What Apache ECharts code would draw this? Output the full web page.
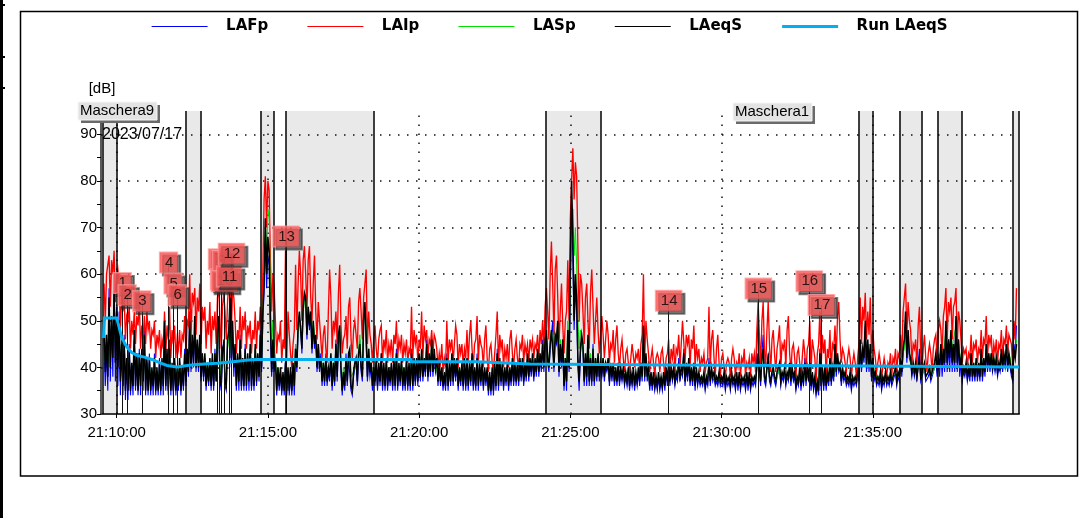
<!DOCTYPE html>
<html>
<head>
<meta charset="utf-8">
<script src="https://cdn.jsdelivr.net/npm/echarts@6/dist/echarts.min.js"></script>
<style>
  html, body { margin: 0; padding: 0; background: #ffffff; }
  #chart { width: 1081px; height: 518px; }
</style>
</head>
<body>
<div id="chart"></div>
<script>
// Sound level log, 2023/07/17, one sample every 2.5 s starting at 21:09:35
const firstSample = '21:09:35';
const stepSeconds = 2.5;

const laip = [
  58,50,60,62, 64,53,63,60, 65,54,59,61, 58,48,55,52, 55,46,51,50,
  53,44,50,47, 52,45,51,49, 54,44,49,46, 51,45,52,48, 50,44,48,47,
  50,42,47,45, 48,42,46,44, 52,43,49,46, 53,42,48,45, 49,42,46,44,
  48,42,47,46, 51,43,50,49, 60,46,56,54, 57,47,55,52, 58,45,53,50,
  53,44,50,47, 54,43,51,48, 52,45,55,57, 50,44,53,56, 52,46,54,58,
  59,47,57,55, 50,43,48,46, 53,44,51,48, 52,44,49,47, 50,43,48,46,
  52,44,50,48, 53,46,60,76, 81,70,80,78, 63,52,60,57, 50,43,47,46,
  50,41,46,44, 65,42,52,47, 43,40,45,48, 62,48,58,65, 60,50,63,66,
  60,52,63,66, 55,50,58,64, 52,46,54,50, 46,42,47,49, 44,41,52,61,
  55,44,50,48, 52,45,56,62, 49,43,46,47, 51,44,53,55, 46,42,48,50,
  50,44,54,57, 52,46,55,58, 61,45,52,47, 45,41,46,49, 44,41,46,48,
  49,41,46,44, 48,41,45,43, 46,41,47,45, 50,42,46,44, 47,41,45,43,
  46,41,44,43, 53,42,48,45, 47,41,46,44, 52,42,49,46, 48,42,46,45,
  48,43,47,46, 44,40,43,41, 45,39,42,40, 50,41,46,44, 46,41,45,49,
  47,40,45,43, 45,40,44,42, 48,41,47,50, 44,40,45,46, 51,41,47,45,
  44,40,46,49, 42,39,44,45, 41,39,43,47, 52,40,47,44, 46,40,44,42,
  45,40,46,48, 43,40,44,46, 42,40,45,44, 47,41,45,43, 45,41,46,44,
  46,42,45,44, 47,42,48,45, 50,44,53,57, 52,46,60,67, 58,47,61,64,
  55,45,52,58, 49,43,50,52, 63,50,72,80, 87,76,84,81, 66,50,60,58,
  52,45,55,58, 50,44,56,61, 53,45,50,55, 48,43,47,51, 47,42,46,50,
  47,41,45,44, 48,41,46,49, 43,40,44,46, 42,39,43,44, 41,39,42,45,
  45,40,43,42, 44,39,45,47, 60,42,50,46, 43,39,42,44, 41,38,42,43,
  42,39,43,44, 41,38,42,43, 46,39,44,42, 45,39,44,43, 47,40,45,50,
  50,41,47,45, 47,40,46,44, 49,40,45,42, 44,39,42,41, 43,39,41,42,
  53,40,46,48, 42,38,44,47, 41,38,42,43, 40,38,41,42, 41,38,42,44,
  42,38,41,40, 43,38,42,41, 44,38,41,40, 42,38,43,41, 43,39,48,54,
  47,40,50,54, 44,40,48,54, 45,39,46,48, 43,39,44,46, 49,40,45,44,
  46,40,48,51, 43,39,44,45, 42,38,43,44, 41,38,42,46, 43,39,44,45,
  50,39,46,44, 42,37,43,45, 52,40,47,43, 46,38,44,42, 48,39,45,44,
  49,42,51,54, 46,41,44,43, 41,39,42,44, 42,38,41,43, 41,38,42,45,
  55,45,53,50, 56,46,52,47, 55,43,48,44, 42,39,41,43, 41,38,40,42,
  42,38,41,40, 43,38,42,41, 44,39,43,42, 47,42,52,55, 58,47,54,50,
  48,41,45,44, 46,40,49,53, 43,39,44,47, 42,39,43,45, 43,39,44,46,
  47,42,48,50, 48,43,51,53, 57,46,54,52, 55,46,53,54, 57,45,52,50,
  46,41,44,43, 44,40,43,42, 47,41,45,44, 46,41,44,43, 48,42,46,45,
  51,42,47,45, 47,41,45,43, 46,41,45,44, 48,42,46,45, 49,43,47,46,
  45,40,50,46, 57
];

const laeqs = [
  50,39,47,38, 55,40,51,42, 56,41,52,40, 50,37,45,36, 46,35,42,35,
  44,35,41,36, 48,36,43,35, 43,36,44,37, 47,35,42,35, 42,35,40,36,
  42,35,40,35, 41,35,42,36, 50,36,44,35, 44,35,41,35, 42,35,40,36,
  42,35,40,36, 43,37,44,39, 50,40,47,41, 51,40,46,40, 47,38,43,38,
  43,36,41,37, 42,36,43,36, 43,37,48,51, 38,36,44,45, 37,36,46,48,
  55,42,50,40, 45,36,43,37, 46,36,42,36, 44,36,43,37, 45,36,42,36,
  45,37,43,38, 47,40,52,58, 72,60,68,65, 50,39,46,40, 42,35,40,36,
  40,35,39,35, 41,35,40,35, 40,35,41,36, 44,40,49,52, 48,44,53,56,
  55,47,53,49, 52,44,50,45, 47,40,45,40, 42,37,41,37, 42,37,40,38,
  43,36,41,37, 45,38,47,49, 40,35,39,36, 42,37,43,44, 36,35,39,41,
  42,37,43,45, 40,38,50,54, 47,38,44,39, 41,36,40,37, 42,36,41,37,
  43,36,41,36, 42,36,40,37, 41,36,42,36, 43,36,41,37, 42,36,40,36,
  42,36,41,36, 43,36,42,37, 42,37,43,38, 44,38,42,39, 45,38,43,39,
  46,39,44,40, 42,37,41,37, 40,36,39,36, 42,36,41,37, 43,37,42,38,
  42,36,40,37, 41,36,42,36, 42,36,41,37, 43,36,40,36, 42,36,41,37,
  41,36,40,37, 40,35,39,35, 40,35,41,36, 43,36,42,37, 41,36,40,37,
  41,36,40,37, 42,37,41,37, 41,37,42,38, 42,37,41,38, 43,38,42,39,
  43,38,42,39, 44,39,43,40, 45,40,46,48, 42,40,45,48, 44,40,47,46,
  50,39,45,41, 46,36,42,37, 48,40,62,80, 68,50,60,55, 42,37,44,47,
  45,37,43,38, 47,37,42,37, 44,37,42,38, 43,38,41,39, 42,38,41,40,
  42,37,41,38, 41,37,40,37, 41,37,40,38, 40,37,39,37, 40,36,39,37,
  40,36,39,37, 40,37,41,38, 49,38,43,38, 40,36,39,36, 39,36,38,36,
  39,36,38,36, 39,36,40,37, 41,37,40,38, 40,37,39,38, 41,38,40,39,
  43,37,41,38, 42,37,40,37, 41,36,40,37, 39,37,38,37, 39,36,38,37,
  41,37,40,38, 39,37,38,37, 39,37,38,37, 39,36,38,37, 38,36,39,37,
  38,36,39,36, 39,36,38,37, 38,36,39,36, 39,36,38,37, 38,37,40,43,
  40,37,42,44, 38,37,40,42, 38,37,39,40, 38,37,39,39, 41,37,39,38,
  40,37,39,38, 41,37,40,38, 39,36,38,37, 40,36,39,37, 41,37,40,38,
  41,36,39,36, 38,35,37,35, 43,36,40,36, 40,36,39,37, 42,37,40,38,
  45,39,43,40, 41,37,40,38, 39,37,38,37, 39,36,38,37, 38,37,39,38,
  46,40,44,42, 50,40,46,40, 45,38,42,38, 39,37,38,37, 39,36,38,37,
  39,37,38,37, 39,37,38,38, 40,37,39,38, 42,39,44,46, 52,42,48,43,
  42,39,41,39, 41,38,40,42, 38,38,40,41, 38,38,39,40, 38,38,40,41,
  43,40,42,40, 45,40,44,41, 50,41,46,42, 48,41,45,41, 51,41,46,40,
  42,38,40,39, 41,38,40,38, 43,38,41,38, 42,38,41,38, 44,38,42,39,
  45,40,43,40, 43,40,42,40, 42,39,41,40, 44,40,43,41, 45,40,43,41,
  39,38,44,42, 45
];

const lafp = [
  46,36,44,35, 57,37,50,38, 60,37,53,36, 52,34,46,34, 47,33,41,33,
  45,34,40,34, 46,35,42,34, 44,34,43,35, 49,34,41,34, 43,34,39,34,
  43,34,39,34, 42,34,41,34, 47,35,43,34, 46,34,40,34, 41,34,39,35,
  41,34,39,35, 44,36,43,38, 52,39,46,40, 48,39,45,39, 45,37,42,37,
  42,35,40,36, 41,35,42,35, 44,37,47,49, 37,35,43,46, 36,35,45,47,
  53,40,48,38, 44,35,42,35, 47,35,41,35, 45,35,42,35, 44,35,41,35,
  44,36,42,37, 48,39,50,56, 68,57,64,62, 48,38,44,39, 41,34,39,35,
  39,34,38,34, 42,34,39,34, 39,34,40,34, 45,39,48,50, 49,43,52,55,
  54,46,52,48, 51,43,49,44, 46,39,44,39, 43,36,40,36, 43,36,39,37,
  42,35,40,36, 46,37,45,47, 39,34,38,35, 43,36,42,42, 35,34,38,40,
  41,36,42,46, 39,37,49,53, 45,37,42,38, 40,35,39,36, 41,35,40,36,
  42,35,40,35, 41,35,39,36, 40,35,41,35, 44,35,40,36, 41,35,39,35,
  41,35,40,35, 44,35,41,36, 41,36,42,37, 43,37,41,38, 46,37,42,38,
  45,38,43,39, 41,36,40,36, 39,35,38,35, 43,35,40,36, 42,36,41,37,
  41,35,39,36, 40,35,41,35, 41,35,40,36, 42,35,39,35, 43,35,40,36,
  40,35,39,36, 39,34,38,34, 39,34,40,35, 44,35,41,36, 40,35,39,36,
  40,35,39,36, 41,36,40,36, 40,36,41,37, 41,36,40,37, 42,37,41,38,
  42,37,41,38, 43,38,42,39, 46,39,45,47, 41,39,44,47, 50,39,46,45,
  49,38,44,40, 44,35,41,35, 47,39,58,72, 64,48,57,52, 40,35,43,46,
  44,36,42,36, 46,36,41,36, 45,36,41,37, 42,37,40,38, 41,37,40,39,
  41,36,40,37, 40,36,39,36, 40,36,39,37, 39,36,38,36, 39,35,38,36,
  39,35,38,36, 39,36,40,37, 47,37,42,37, 39,35,38,35, 38,35,37,35,
  38,35,37,35, 38,35,39,36, 40,36,39,37, 39,36,38,37, 42,37,39,38,
  44,36,40,37, 41,36,39,36, 40,35,39,36, 38,36,37,36, 38,35,37,36,
  42,36,39,37, 38,36,37,36, 38,36,37,36, 38,35,37,36, 37,35,38,36,
  37,35,38,35, 38,35,37,36, 37,35,38,35, 38,35,37,36, 37,36,44,51,
  39,36,43,47, 37,36,40,43, 37,36,38,39, 37,36,38,38, 40,36,38,37,
  39,36,38,37, 40,36,39,37, 38,35,37,36, 39,35,38,36, 42,36,39,37,
  42,35,38,35, 37,34,36,34, 44,35,40,35, 39,35,38,36, 41,36,39,37,
  44,38,42,39, 40,36,39,37, 38,36,37,36, 38,35,37,36, 37,36,38,37,
  45,39,43,41, 49,39,45,39, 44,37,41,37, 38,36,37,36, 38,35,37,36,
  38,36,37,36, 38,36,37,37, 39,36,38,37, 41,38,43,45, 50,41,47,42,
  41,38,40,38, 40,37,41,44, 37,37,39,40, 37,37,38,39, 37,37,39,40,
  42,38,41,38, 44,38,43,39, 49,39,45,39, 47,39,44,39, 50,39,45,38,
  41,37,39,38, 40,37,39,37, 42,37,40,37, 41,37,40,37, 43,37,41,38,
  44,39,42,39, 42,39,41,39, 41,38,40,39, 43,39,42,40, 44,39,42,40,
  38,37,45,43, 49
];

const lasp = [
  47,41,45,40, 52,43,49,45, 54,45,50,44, 49,40,44,39, 45,38,42,38,
  42,37,40,38, 45,38,42,37, 42,37,43,38, 44,37,41,37, 41,37,39,37,
  41,37,39,37, 40,37,41,37, 46,38,42,37, 43,37,40,37, 41,37,39,37,
  41,37,40,38, 42,39,43,40, 48,42,46,43, 49,42,45,42, 46,39,43,39,
  42,38,41,38, 41,38,42,38, 43,39,46,48, 40,38,43,44, 39,38,44,46,
  52,43,48,41, 44,38,42,38, 45,38,42,38, 43,38,42,38, 44,38,41,38,
  44,39,42,40, 46,42,52,60, 70,66,72,74, 56,44,50,45, 42,37,40,38,
  39,36,38,36, 40,36,39,36, 39,36,40,37, 45,41,48,50, 50,46,52,54,
  55,49,53,51, 52,46,50,47, 47,42,45,42, 42,39,41,39, 41,38,40,39,
  42,38,41,39, 44,40,46,48, 41,37,40,38, 42,39,42,43, 38,38,39,40,
  41,39,44,47, 41,40,49,52, 48,40,44,40, 41,38,40,38, 41,38,40,38,
  41,38,40,38, 41,38,40,38, 40,37,41,38, 42,38,40,38, 41,38,40,38,
  41,38,40,38, 42,38,41,39, 41,38,42,39, 43,39,42,40, 44,39,42,40,
  45,40,43,41, 41,38,40,38, 39,37,38,37, 41,37,40,38, 42,38,41,39,
  41,38,40,38, 40,37,40,38, 41,38,40,38, 42,38,40,38, 41,38,40,38,
  40,37,39,38, 39,37,38,37, 39,37,40,37, 42,38,41,38, 40,37,39,38,
  40,38,39,38, 41,38,40,38, 40,38,41,39, 41,38,40,39, 42,39,41,40,
  42,39,41,40, 43,40,42,41, 44,41,45,47, 43,41,46,48, 45,42,47,46,
  49,42,46,43, 45,38,42,39, 50,44,58,66, 74,64,70,62, 50,44,48,46,
  44,39,42,40, 46,39,43,39, 44,39,42,40, 42,39,41,40, 42,39,41,40,
  41,38,40,39, 40,38,39,38, 40,38,39,39, 39,38,39,38, 39,37,38,38,
  39,37,38,38, 39,38,40,38, 46,39,42,39, 39,37,38,37, 38,37,38,37,
  38,37,38,37, 38,37,39,38, 40,38,39,39, 39,38,39,39, 40,38,39,39,
  42,38,40,39, 41,38,40,38, 40,37,39,38, 38,37,38,38, 38,37,38,38,
  40,38,39,38, 38,37,38,37, 38,37,38,37, 38,37,38,37, 38,37,38,37,
  38,37,38,37, 38,37,38,37, 38,37,38,37, 38,37,38,37, 38,37,40,42,
  39,38,41,43, 38,37,40,42, 38,37,39,40, 38,37,38,39, 40,37,39,38,
  39,37,38,38, 40,37,39,38, 39,37,38,37, 39,37,38,37, 40,37,39,38,
  40,37,39,37, 38,36,37,36, 42,37,40,37, 40,37,39,38, 41,38,40,38,
  43,40,42,41, 40,38,39,38, 39,37,38,38, 38,37,38,37, 38,37,38,38,
  44,41,43,43, 47,41,45,41, 44,39,42,39, 39,38,38,38, 38,37,38,37,
  38,37,38,37, 39,37,38,38, 39,38,39,38, 41,40,43,44, 48,43,46,44,
  41,39,40,39, 41,39,40,41, 38,38,39,40, 38,38,39,40, 38,38,39,40,
  42,40,41,41, 44,41,44,45, 48,44,46,44, 47,44,46,46, 49,44,46,43,
  41,39,40,40, 40,39,40,39, 42,39,41,39, 41,39,40,39, 43,39,41,40,
  44,41,43,41, 43,41,42,41, 42,40,41,41, 43,41,42,41, 44,41,43,42,
  40,39,44,43, 46
];

// Running Leq (masked periods excluded)
const runTimes = [
  '21:09:34', '21:09:36', '21:10:00', '21:10:04', '21:10:10', '21:10:20', '21:10:30',
  '21:10:40', '21:10:55', '21:11:10', '21:11:25', '21:11:40', '21:12:00', '21:12:20',
  '21:12:40', '21:13:00', '21:13:20', '21:13:40', '21:14:00', '21:14:20', '21:14:40',
  '21:19:43', '21:19:44', '21:21:55', '21:21:56', '21:23:40', '21:28:20', '21:32:22',
  '21:32:23', '21:39:50'
];
const runLaeqs = [
  46.3, 50.6, 50.6, 49.0, 46.4, 44.4, 43.2,
  42.6, 42.2, 41.7, 41.0, 40.4, 40.1, 40.4,
  40.6, 40.8, 40.9, 41.1, 41.3, 41.6, 41.7,
  41.7, 41.2, 41.2, 40.8, 40.7, 40.5, 40.4,
  40.1, 40.1
];

// Masks: start / end of each excluded period
const masks = [
  ['21:09:33', '21:10:01'],
  ['21:12:18', '21:12:46'],
  ['21:14:46', '21:15:12'],
  ['21:15:36', '21:18:30'],
  ['21:24:12', '21:26:00'],
  ['21:34:32', '21:34:59'],
  ['21:35:53', '21:36:37'],
  ['21:37:08', '21:37:57'],
  ['21:39:38', '21:39:50']
];
const maskNames = ['Maschera9', 'Maschera1'];

// Numbered event markers
const markerIds = [1, 2, 3, 4, 5, 6, 7, 8, 9, 10, 11, 12, 13, 14, 15, 16, 17];
const markerTimes = [
  '21:10:11', '21:10:21', '21:10:50', '21:11:43', '21:11:52', '21:12:00',
  '21:13:20', '21:13:24', '21:13:28', '21:13:34', '21:13:43', '21:13:48',
  '21:15:36', '21:28:15', '21:31:13', '21:32:54', '21:33:18'
];
const markerLevels = [
  58.1, 55.5, 54.2, 62.5, 58.0, 55.5,
  63.2, 58.9, 62.8, 58.5, 59.5, 64.4,
  68.1, 54.3, 56.9, 58.5, 53.4
];

const legendNames = ['LAFp', 'LAIp', 'LASp', 'LAeqS', 'Run LAeqS'];
const xTickLabels = ['21:10:00', '21:15:00', '21:20:00', '21:25:00', '21:30:00', '21:35:00'];
const yTickLabels = [30, 40, 50, 60, 70, 80, 90];
const yGridLevels = [40, 50, 60, 70, 80, 90];
const axisStart = '21:09:29';
const axisEnd = '21:39:50';
const dateText = '2023/07/17';

function toSec(s) {
  const p = s.split(':').map(Number);
  return p[0] * 3600 + p[1] * 60 + p[2];
}
function pad(n) { return (n < 10 ? '0' : '') + n; }
function fmt(sec) {
  sec = Math.round(sec);
  return pad(Math.floor(sec / 3600)) + ':' + pad(Math.floor(sec / 60) % 60) + ':' + pad(sec % 60);
}

const t0 = toSec(firstSample);
const sampled = values => values.map((v, i) => [t0 + i * stepSeconds, v]);

const FONT = "'Liberation Sans', Arial, sans-serif";
const COLORS = { LAFp: '#0000ff', LAIp: '#ff0000', LASp: '#00e000', LAeqS: '#000000', 'Run LAeqS': '#00b0f0' };

function levelSeries(name, values, width, z) {
  const color = COLORS[name];
  return {
    name: name,
    type: 'line',
    symbol: 'none',
    silent: true,
    animation: false,
    sampling: null,
    z: z,
    lineStyle: { color: color, width: width, join: 'miter' },
    itemStyle: { color: color },
    data: values
  };
}

const chart = echarts.init(document.getElementById('chart'), null, { renderer: 'canvas' });

const maskEdges = [];
masks.forEach(m => { maskEdges.push(m[0]); maskEdges.push(m[1]); });

function labelBox(text, x, y, w, h) {
  return [
    { type: 'rect', shape: { x: x + 3, y: y + 3, width: w, height: h }, style: { fill: '#6a6a6a' }, z: 100 },
    { type: 'rect', shape: { x: x, y: y, width: w, height: h }, style: { fill: '#e3e3e3', stroke: '#f6f6f6', lineWidth: 1 }, z: 101 },
    { type: 'text', x: x + 2, y: y + h / 2, style: { text: text, font: '15px ' + FONT, fill: '#000', verticalAlign: 'middle' }, z: 102 }
  ];
}

const option = {
  animation: false,
  backgroundColor: '#ffffff',
  grid: { left: 101, right: 62, top: 111, bottom: 104 },
  legend: {
    data: legendNames.map(n => ({
      name: n,
      itemStyle: { color: 'rgba(0,0,0,0)', borderWidth: 0 },
      lineStyle: { color: COLORS[n], width: n === 'Run LAeqS' ? 3 : 1.2 }
    })),
    left: 151,
    top: 19,
    padding: 0,
    itemWidth: 56,
    itemHeight: 14,
    itemGap: 38.5,
    selectedMode: false,
    itemStyle: { color: 'rgba(0,0,0,0)', borderWidth: 0, opacity: 0 },
    textStyle: {
      fontFamily: "'DejaVu Sans', sans-serif",
      fontWeight: 'bold',
      fontSize: 15,
      color: '#000',
      padding: [0, 0, 0, 13.5]
    }
  },
  xAxis: {
    type: 'value',
    min: toSec(axisStart),
    max: toSec(axisEnd),
    axisLine: { show: true, onZero: false, lineStyle: { color: '#3a3a3a', width: 2 } },
    axisTick: { show: true, length: 4, customValues: xTickLabels.map(toSec), lineStyle: { color: '#000', width: 1 } },
    axisLabel: {
      customValues: xTickLabels.map(toSec),
      formatter: v => fmt(v),
      margin: 11,
      color: '#000',
      fontFamily: FONT,
      fontSize: 15
    },
    splitLine: { show: false }
  },
  yAxis: {
    type: 'value',
    min: 30,
    max: 95,
    interval: 5,
    axisLine: { show: true, lineStyle: { color: '#222', width: 1.5 } },
    axisTick: { show: true, length: 4, lineStyle: { color: '#000', width: 1 } },
    axisLabel: {
      customValues: yTickLabels,
      margin: 4,
      color: '#000',
      fontFamily: FONT,
      fontSize: 15
    },
    splitLine: { show: false }
  },
  series: [
    // shaded masked periods and dotted grid, under the levels
    {
      type: 'line', name: 'grid', data: [], silent: true, z: 1,
      markArea: {
        silent: true, z: 0,
        itemStyle: { color: '#e9e9e9' },
        data: masks.map(m => [{ xAxis: toSec(m[0]) }, { xAxis: toSec(m[1]) }])
      },
      markLine: {
        silent: true, z: 1, animation: false,
        symbol: ['none', 'none'],
        label: { show: false },
        lineStyle: { color: '#111', width: 1.5, type: [1.5, 7.5] },
        data: yGridLevels.map(v => ({ yAxis: v })).concat(xTickLabels.map(s => ({ xAxis: toSec(s) })))
      }
    },
    // marker stems
    {
      type: 'line', name: 'stems', data: [], silent: true, z: 2,
      markLine: {
        silent: true, z: 3, animation: false,
        symbol: ['none', 'none'],
        label: { show: false },
        lineStyle: { color: '#111', width: 1, type: 'solid' },
        data: markerTimes.map((s, i) => [
          { coord: [toSec(s), markerLevels[i]] },
          { coord: [toSec(s), 30] }
        ])
      }
    },
    levelSeries('LAFp', sampled(lafp), 1.1, 2),
    levelSeries('LAIp', sampled(laip), 1.35, 2),
    levelSeries('LASp', sampled(lasp), 1, 2),
    levelSeries('LAeqS', sampled(laeqs), 1.5, 2),
    // mask boundary lines
    {
      type: 'line', name: 'maskEdges', data: [], silent: true, z: 4,
      markLine: {
        silent: true, z: 5, animation: false,
        symbol: ['none', 'none'],
        label: { show: false },
        lineStyle: { color: '#000', width: 1.5, type: 'solid' },
        data: maskEdges.map(s => ({ xAxis: toSec(s) }))
      }
    },
    levelSeries('Run LAeqS', runTimes.map((s, i) => [toSec(s), runLaeqs[i]]), 3, 6),
    // numbered marker labels
    {
      type: 'scatter', name: 'markers', silent: true, z: 10,
      symbolSize: 0,
      data: markerIds.map((id, i) => [toSec(markerTimes[i]), markerLevels[i], id]),
      label: {
        show: true,
        position: 'inside',
        formatter: p => String(p.value[2]),
        color: '#000',
        fontFamily: FONT,
        fontSize: 15,
        lineHeight: 17,
        backgroundColor: '#fa5a5a',
        borderColor: '#ff9c9c',
        borderWidth: 1,
        padding: [2, 4, 1, 5],
        shadowColor: 'rgba(40,40,40,0.75)',
        shadowOffsetX: 3,
        shadowOffsetY: 3
      },
      labelLayout: { hideOverlap: false }
    }
  ],
  graphic: [
    // page edge
    { type: 'line', shape: { x1: 1.5, y1: 0, x2: 1.5, y2: 518 }, style: { stroke: '#000', lineWidth: 3 } },
    { type: 'line', shape: { x1: 0, y1: 5, x2: 5, y2: 5 }, style: { stroke: '#000', lineWidth: 2 } },
    { type: 'line', shape: { x1: 0, y1: 57, x2: 5, y2: 57 }, style: { stroke: '#000', lineWidth: 2 } },
    { type: 'line', shape: { x1: 0, y1: 88, x2: 5, y2: 88 }, style: { stroke: '#000', lineWidth: 2 } },
    // chart frame
    { type: 'rect', shape: { x: 20.5, y: 11.5, width: 1057, height: 464.5 }, style: { fill: null, stroke: '#000', lineWidth: 1.5 }, z: -10 },
    { type: 'text', x: 102, y: 89, style: { text: '[dB]', font: '15px ' + FONT, fill: '#000', align: 'center', verticalAlign: 'middle' } },
    { type: 'text', x: 102, y: 134.5, style: { text: dateText, font: '16px ' + FONT, fill: '#000', verticalAlign: 'middle' }, z: 50 }
  ].concat(labelBox(maskNames[0], 78, 102, 79, 18)).concat(labelBox(maskNames[1], 733, 103, 79, 18))
};

chart.setOption(option);
</script>
</body>
</html>
